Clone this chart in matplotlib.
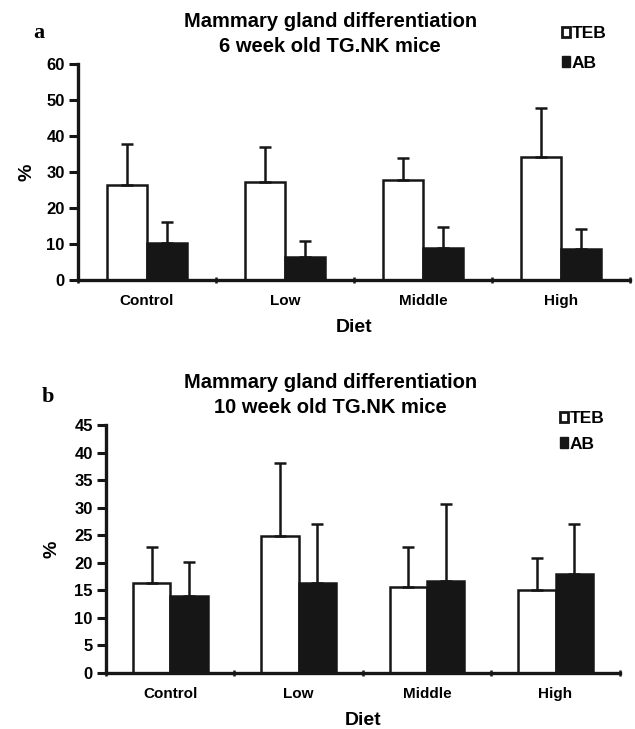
import numpy as np
import matplotlib
matplotlib.use('Agg')
import matplotlib.pyplot as plt
import matplotlib.transforms as mtransforms
from matplotlib.patches import Patch

plt.rcParams['font.family'] = ['Liberation Sans', 'DejaVu Sans']
plt.rcParams['font.weight'] = 'bold'

diets = ['Control', 'Low', 'Middle', 'High']
series = ['TEB', 'AB']

# panel a: 6 week old
teb_6 = [26.3, 27.3, 27.8, 34.1]
teb_6_err = [11.5, 9.6, 6.2, 13.8]
ab_6 = [10.4, 6.5, 9.0, 8.6]
ab_6_err = [5.6, 4.3, 5.6, 5.5]

# panel b: 10 week old
teb_10 = [16.3, 24.9, 15.6, 15.1]
teb_10_err = [6.6, 13.2, 7.3, 5.8]
ab_10 = [13.9, 16.4, 16.7, 18.0]
ab_10_err = [6.2, 10.6, 13.9, 9.0]

INK = '#161616'
W = 0.29


def panel(fig, ax, teb, teb_err, ab, ab_err, ymax, ystep, title, title_xy,
          letter, leg_anchor, leg_spacing, ylab_pad):
    x = np.arange(len(diets)) + 0.5
    zeros = np.zeros(len(diets))
    ekw = dict(ecolor=INK, elinewidth=1.8, capsize=4, capthick=1.8)
    ax.bar(x - W / 2, teb, W, color='white', edgecolor=INK, lw=1.8,
           yerr=[zeros, teb_err], error_kw=ekw, zorder=2)
    ax.bar(x + W / 2, ab, W, color=INK, edgecolor=INK, lw=1.8,
           yerr=[zeros, ab_err], error_kw=ekw, zorder=2)

    ax.set_xlim(0, len(diets))
    ax.set_ylim(0, ymax)
    ax.set_yticks(np.arange(0, ymax + 0.1, ystep))
    ax.set_xticks(np.arange(len(diets) + 1))
    ax.set_xticklabels([])
    ax.set_xticks(x, minor=True)
    ax.set_xticklabels(diets, minor=True, fontsize=11, fontweight='bold')
    shift = mtransforms.ScaledTranslation(-6 / 100, 0, fig.dpi_scale_trans)
    for lab in ax.get_xticklabels(minor=True):
        lab.set_transform(lab.get_transform() + shift)
    ax.tick_params(axis='x', which='minor', length=0, pad=10)
    ax.tick_params(axis='x', which='major', length=5, width=1.8,
                   direction='inout', color=INK)
    ax.tick_params(axis='y', length=6.5, width=2.2, color=INK, labelsize=12,
                   pad=3)
    for lab in ax.get_yticklabels():
        lab.set_fontweight('bold')
    for side in ('top', 'right'):
        ax.spines[side].set_visible(False)
    for side in ('left', 'bottom'):
        ax.spines[side].set_linewidth(2.4)
        ax.spines[side].set_color(INK)

    ax.set_ylabel('%', fontsize=14, fontweight='bold', labelpad=ylab_pad)
    ax.set_xlabel('Diet', fontsize=14, fontweight='bold', labelpad=8)
    fig.text(title_xy[0], title_xy[1], title, fontsize=14.5,
             fontweight='bold', linespacing=1.4, ha='center', va='center')

    handles = [Patch(facecolor='white', edgecolor=INK, lw=2.0),
               Patch(facecolor=INK, edgecolor=INK, lw=1.0)]
    ax.legend(handles, series, loc='upper left', bbox_to_anchor=leg_anchor,
              bbox_transform=fig.transFigure, frameon=False,
              handlelength=0.45, handleheight=0.55, handletextpad=0.1,
              labelspacing=leg_spacing, borderpad=0, borderaxespad=0,
              prop={'weight': 'bold', 'size': 12.5})
    fig.text(letter[0], letter[1], letter[2], fontsize=16, fontweight='bold',
             family=['Liberation Serif', 'DejaVu Serif'],
             va='center', ha='left')


fig = plt.figure(figsize=(6.35, 7.29), dpi=100)
ax_a = fig.add_axes([0.1228, 0.6159, 0.869, 0.2963])
ax_b = fig.add_axes([0.167, 0.0768, 0.809, 0.3402])

panel(fig, ax_a, teb_6, teb_6_err, ab_6, ab_6_err, 60, 10,
      'Mammary gland differentiation\n6 week old TG.NK mice', (0.52, 0.954),
      (0.052, 0.955, 'a'), (0.885, 0.964), 0.84, 8)
panel(fig, ax_b, teb_10, teb_10_err, ab_10, ab_10_err, 45, 5,
      'Mammary gland differentiation\n10 week old TG.NK mice', (0.521, 0.458),
      (0.065, 0.455, 'b'), (0.882, 0.436), 0.6, 10)

fig.savefig('out.png', dpi=100)
